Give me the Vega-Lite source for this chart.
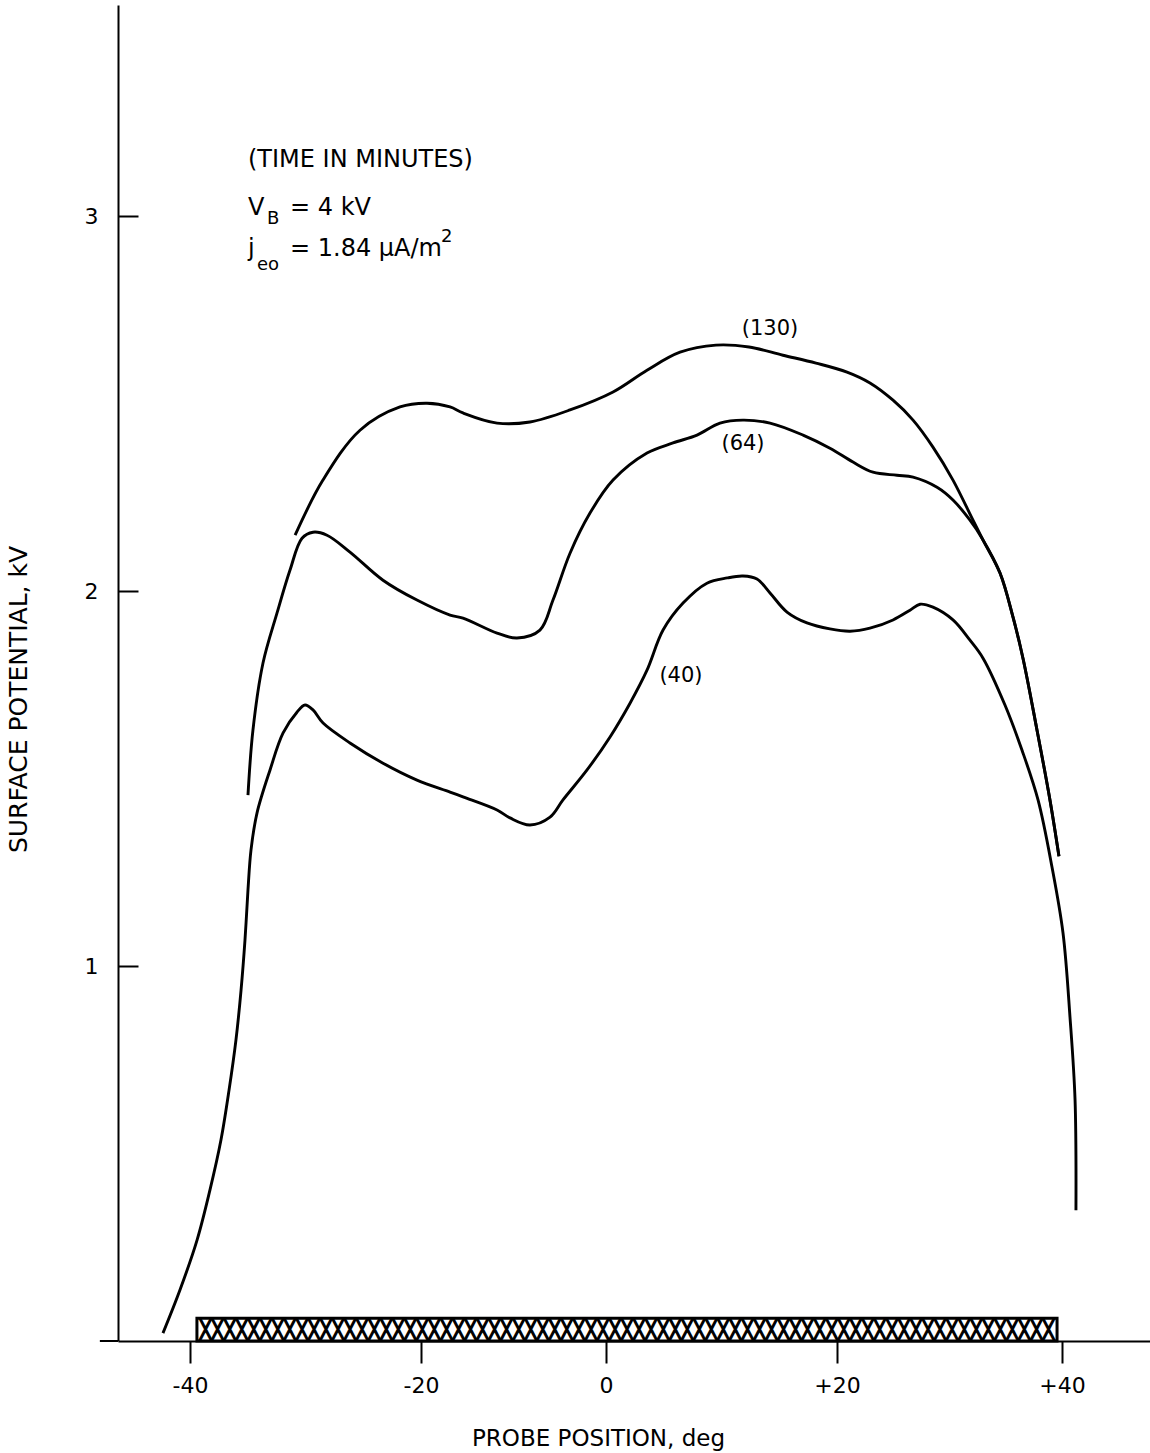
{
  "$schema": "https://vega.github.io/schema/vega-lite/v6.json",
  "width": 1032,
  "height": 1336,
  "autosize": {"type": "none"},
  "padding": {"left": 118, "top": 5, "right": 0, "bottom": 112},
  "background": "white",
  "config": {
    "view": {"stroke": null},
    "font": "DejaVu Sans",
    "axis": {
      "grid": false,
      "domainColor": "black",
      "domainWidth": 2,
      "tickColor": "black",
      "tickWidth": 2,
      "labelColor": "black",
      "titleColor": "black",
      "labelFont": "DejaVu Sans",
      "titleFont": "DejaVu Sans",
      "titleFontWeight": "normal"
    }
  },
  "datasets": {
    "curves": [
      {"t": "130", "deg": -30.9, "kv": 2.149},
      {"t": "130", "deg": -28.49, "kv": 2.296},
      {"t": "130", "deg": -25.28, "kv": 2.429},
      {"t": "130", "deg": -21.82, "kv": 2.491},
      {"t": "130", "deg": -19.35, "kv": 2.501},
      {"t": "130", "deg": -16.86, "kv": 2.491},
      {"t": "130", "deg": -15.46, "kv": 2.475},
      {"t": "130", "deg": -11.78, "kv": 2.448},
      {"t": "130", "deg": -8.22, "kv": 2.451},
      {"t": "130", "deg": -3.89, "kv": 2.483},
      {"t": "130", "deg": 0.61, "kv": 2.531},
      {"t": "130", "deg": 3.55, "kv": 2.589},
      {"t": "130", "deg": 6.41, "kv": 2.637},
      {"t": "130", "deg": 9.52, "kv": 2.656},
      {"t": "130", "deg": 12.38, "kv": 2.651},
      {"t": "130", "deg": 15.32, "kv": 2.629},
      {"t": "130", "deg": 18.18, "kv": 2.608},
      {"t": "130", "deg": 20.89, "kv": 2.584},
      {"t": "130", "deg": 22.93, "kv": 2.555},
      {"t": "130", "deg": 24.98, "kv": 2.509},
      {"t": "130", "deg": 26.76, "kv": 2.456},
      {"t": "130", "deg": 28.53, "kv": 2.384},
      {"t": "130", "deg": 30.31, "kv": 2.296},
      {"t": "130", "deg": 32.09, "kv": 2.189},
      {"t": "130", "deg": 32.98, "kv": 2.136},
      {"t": "130", "deg": 34.49, "kv": 2.048},
      {"t": "130", "deg": 35.64, "kv": 1.931},
      {"t": "130", "deg": 36.53, "kv": 1.821},
      {"t": "130", "deg": 37.78, "kv": 1.629},
      {"t": "130", "deg": 38.93, "kv": 1.443},
      {"t": "130", "deg": 39.73, "kv": 1.293},

      {"t": "64", "deg": -34.98, "kv": 1.456},
      {"t": "64", "deg": -34.55, "kv": 1.629},
      {"t": "64", "deg": -33.68, "kv": 1.808},
      {"t": "64", "deg": -32.47, "kv": 1.941},
      {"t": "64", "deg": -31.34, "kv": 2.056},
      {"t": "64", "deg": -30.3, "kv": 2.141},
      {"t": "64", "deg": -29.35, "kv": 2.157},
      {"t": "64", "deg": -28.14, "kv": 2.149},
      {"t": "64", "deg": -26.15, "kv": 2.104},
      {"t": "64", "deg": -23.29, "kv": 2.029},
      {"t": "64", "deg": -20.35, "kv": 1.976},
      {"t": "64", "deg": -16.86, "kv": 1.936},
      {"t": "64", "deg": -15.46, "kv": 1.928},
      {"t": "64", "deg": -11.78, "kv": 1.888},
      {"t": "64", "deg": -9.62, "kv": 1.875},
      {"t": "64", "deg": -7.14, "kv": 1.896},
      {"t": "64", "deg": -5.73, "kv": 1.976},
      {"t": "64", "deg": -3.89, "kv": 2.101},
      {"t": "64", "deg": -1.73, "kv": 2.208},
      {"t": "64", "deg": 0.61, "kv": 2.296},
      {"t": "64", "deg": 3.55, "kv": 2.368},
      {"t": "64", "deg": 5.8, "kv": 2.395},
      {"t": "64", "deg": 7.88, "kv": 2.416},
      {"t": "64", "deg": 9.87, "kv": 2.448},
      {"t": "64", "deg": 11.86, "kv": 2.456},
      {"t": "64", "deg": 14.2, "kv": 2.448},
      {"t": "64", "deg": 17.06, "kv": 2.416},
      {"t": "64", "deg": 19.39, "kv": 2.381},
      {"t": "64", "deg": 21.42, "kv": 2.344},
      {"t": "64", "deg": 23.2, "kv": 2.317},
      {"t": "64", "deg": 25.33, "kv": 2.309},
      {"t": "64", "deg": 26.76, "kv": 2.304},
      {"t": "64", "deg": 28.89, "kv": 2.277},
      {"t": "64", "deg": 30.31, "kv": 2.243},
      {"t": "64", "deg": 31.82, "kv": 2.189},
      {"t": "64", "deg": 32.89, "kv": 2.141},
      {"t": "64", "deg": 34.49, "kv": 2.048},
      {"t": "64", "deg": 35.64, "kv": 1.931},
      {"t": "64", "deg": 36.53, "kv": 1.821},
      {"t": "64", "deg": 37.78, "kv": 1.629},
      {"t": "64", "deg": 38.93, "kv": 1.443},
      {"t": "64", "deg": 39.73, "kv": 1.293},

      {"t": "40", "deg": -42.34, "kv": 0.021},
      {"t": "40", "deg": -40.87, "kv": 0.136},
      {"t": "40", "deg": -39.39, "kv": 0.269},
      {"t": "40", "deg": -38.27, "kv": 0.403},
      {"t": "40", "deg": -37.32, "kv": 0.536},
      {"t": "40", "deg": -36.62, "kv": 0.669},
      {"t": "40", "deg": -36.02, "kv": 0.803},
      {"t": "40", "deg": -35.58, "kv": 0.936},
      {"t": "40", "deg": -35.24, "kv": 1.069},
      {"t": "40", "deg": -34.98, "kv": 1.203},
      {"t": "40", "deg": -34.72, "kv": 1.309},
      {"t": "40", "deg": -34.2, "kv": 1.408},
      {"t": "40", "deg": -33.07, "kv": 1.523},
      {"t": "40", "deg": -31.95, "kv": 1.621},
      {"t": "40", "deg": -30.74, "kv": 1.677},
      {"t": "40", "deg": -30.04, "kv": 1.696},
      {"t": "40", "deg": -29.35, "kv": 1.683},
      {"t": "40", "deg": -28.48, "kv": 1.648},
      {"t": "40", "deg": -26.15, "kv": 1.595},
      {"t": "40", "deg": -23.29, "kv": 1.541},
      {"t": "40", "deg": -20.35, "kv": 1.496},
      {"t": "40", "deg": -16.86, "kv": 1.464},
      {"t": "40", "deg": -15.46, "kv": 1.451},
      {"t": "40", "deg": -11.78, "kv": 1.416},
      {"t": "40", "deg": -10.38, "kv": 1.395},
      {"t": "40", "deg": -8.22, "kv": 1.376},
      {"t": "40", "deg": -6.05, "kv": 1.397},
      {"t": "40", "deg": -4.65, "kv": 1.443},
      {"t": "40", "deg": -2.05, "kv": 1.523},
      {"t": "40", "deg": 0.35, "kv": 1.611},
      {"t": "40", "deg": 2.08, "kv": 1.701},
      {"t": "40", "deg": 3.55, "kv": 1.789},
      {"t": "40", "deg": 4.94, "kv": 1.896},
      {"t": "40", "deg": 6.67, "kv": 1.968},
      {"t": "40", "deg": 8.74, "kv": 2.021},
      {"t": "40", "deg": 10.5, "kv": 2.035},
      {"t": "40", "deg": 11.86, "kv": 2.04},
      {"t": "40", "deg": 13.07, "kv": 2.032},
      {"t": "40", "deg": 14.2, "kv": 1.995},
      {"t": "40", "deg": 15.67, "kv": 1.944},
      {"t": "40", "deg": 17.4, "kv": 1.915},
      {"t": "40", "deg": 19.39, "kv": 1.899},
      {"t": "40", "deg": 21.16, "kv": 1.893},
      {"t": "40", "deg": 22.93, "kv": 1.901},
      {"t": "40", "deg": 24.98, "kv": 1.923},
      {"t": "40", "deg": 26.49, "kv": 1.949},
      {"t": "40", "deg": 27.38, "kv": 1.965},
      {"t": "40", "deg": 28.53, "kv": 1.957},
      {"t": "40", "deg": 30.31, "kv": 1.923},
      {"t": "40", "deg": 31.82, "kv": 1.869},
      {"t": "40", "deg": 32.98, "kv": 1.821},
      {"t": "40", "deg": 34.93, "kv": 1.696},
      {"t": "40", "deg": 36.44, "kv": 1.576},
      {"t": "40", "deg": 37.87, "kv": 1.443},
      {"t": "40", "deg": 39.11, "kv": 1.264},
      {"t": "40", "deg": 40.09, "kv": 1.088},
      {"t": "40", "deg": 40.71, "kv": 0.864},
      {"t": "40", "deg": 41.16, "kv": 0.643},
      {"t": "40", "deg": 41.24, "kv": 0.349}
    ],
    "curveLabels": [
      {"deg": 14.2, "kv": 2.699, "txt": "(130)"},
      {"deg": 11.86, "kv": 2.392, "txt": "(64)"},
      {"deg": 6.49, "kv": 1.773, "txt": "(40)"}
    ],
    "notes": [
      {"deg": -34.98, "kv": 3.149, "txt": "(TIME IN MINUTES)"},
      {"deg": -34.98, "kv": 3.021, "txt": "V"},
      {"deg": -31.34, "kv": 3.021, "txt": "= 4 kV"},
      {"deg": -34.98, "kv": 2.912, "txt": "j"},
      {"deg": -31.34, "kv": 2.912, "txt": "= 1.84 μA/m"}
    ],
    "scripts": [
      {"deg": -33.33, "kv": 2.992, "txt": "B"},
      {"deg": -34.2, "kv": 2.869, "txt": "eo"},
      {"deg": -17.84, "kv": 2.945, "txt": "2"}
    ],
    "bar": [
      {"deg": -39.4, "deg2": 39.56, "kv": 0, "kv2": 0.061}
    ],
    "hatch": [
      {"deg": 1.82, "kv": 0.0305, "txt": "╳╳╳╳╳╳╳╳╳╳╳╳╳╳╳╳╳╳╳╳╳╳╳╳╳╳╳╳╳╳╳╳╳╳╳╳╳╳╳╳╳╳╳╳╳╳╳╳╳╳╳╳╳╳╳╳╳╳╳╳╳╳╳╳╳╳╳╳╳╳╳"}
    ],
    "axisExt": [
      {"deg": -47.8, "deg2": -46.23, "kv": 0}
    ]
  },
  "encoding": {
    "x": {
      "field": "deg",
      "type": "quantitative",
      "scale": {
        "domain": [-46.23, -40, -20, 0, 20, 40, 47.82],
        "range": [0, 72, 303, 488, 719, 944, 1032],
        "nice": false,
        "zero": false
      },
      "axis": {
        "values": [-40, -20, 0, 20, 40],
        "labelExpr": "datum.value > 0 ? '+' + datum.value : '' + datum.value",
        "tickSize": 22,
        "labelPadding": 12,
        "labelFontSize": 22,
        "labelAngle": 0,
        "title": "PROBE POSITION, deg",
        "titleFontSize": 23,
        "titleX": 480,
        "titleY": 97,
        "titleAlign": "center",
        "titleBaseline": "middle"
      }
    },
    "y": {
      "field": "kv",
      "type": "quantitative",
      "scale": {"domain": [0, 3.563], "nice": false, "zero": true},
      "axis": {
        "values": [1, 2, 3],
        "tickSize": -20,
        "labelPadding": 40,
        "labelFontSize": 22,
        "title": "SURFACE POTENTIAL, kV",
        "titleFontSize": 25,
        "titleAngle": -90,
        "titleX": -100,
        "titleY": 694,
        "titleAlign": "center",
        "titleBaseline": "middle"
      }
    }
  },
  "layer": [
    {
      "data": {"name": "axisExt"},
      "mark": {"type": "rule", "color": "black", "strokeWidth": 2},
      "encoding": {"x2": {"field": "deg2"}}
    },
    {
      "data": {"name": "bar"},
      "mark": {"type": "rect", "fill": "white", "stroke": "black", "strokeWidth": 3},
      "encoding": {
        "x2": {"field": "deg2"},
        "y2": {"field": "kv2"}
      }
    },
    {
      "data": {"name": "hatch"},
      "mark": {"type": "text", "font": "DejaVu Sans Mono", "fontSize": 20, "align": "center", "baseline": "middle", "color": "black", "stroke": "black", "strokeWidth": 1.3},
      "encoding": {"text": {"field": "txt"}}
    },
    {
      "data": {"name": "curves"},
      "mark": {"type": "line", "interpolate": "catmull-rom", "color": "black", "strokeWidth": 2.9},
      "encoding": {"detail": {"field": "t"}}
    },
    {
      "data": {"name": "curveLabels"},
      "mark": {"type": "text", "fontSize": 21, "align": "center", "baseline": "middle", "color": "black"},
      "encoding": {"text": {"field": "txt"}}
    },
    {
      "data": {"name": "notes"},
      "mark": {"type": "text", "fontSize": 24, "align": "left", "baseline": "middle", "color": "black"},
      "encoding": {"text": {"field": "txt"}}
    },
    {
      "data": {"name": "scripts"},
      "mark": {"type": "text", "fontSize": 18, "align": "left", "baseline": "middle", "color": "black"},
      "encoding": {"text": {"field": "txt"}}
    }
  ]
}
